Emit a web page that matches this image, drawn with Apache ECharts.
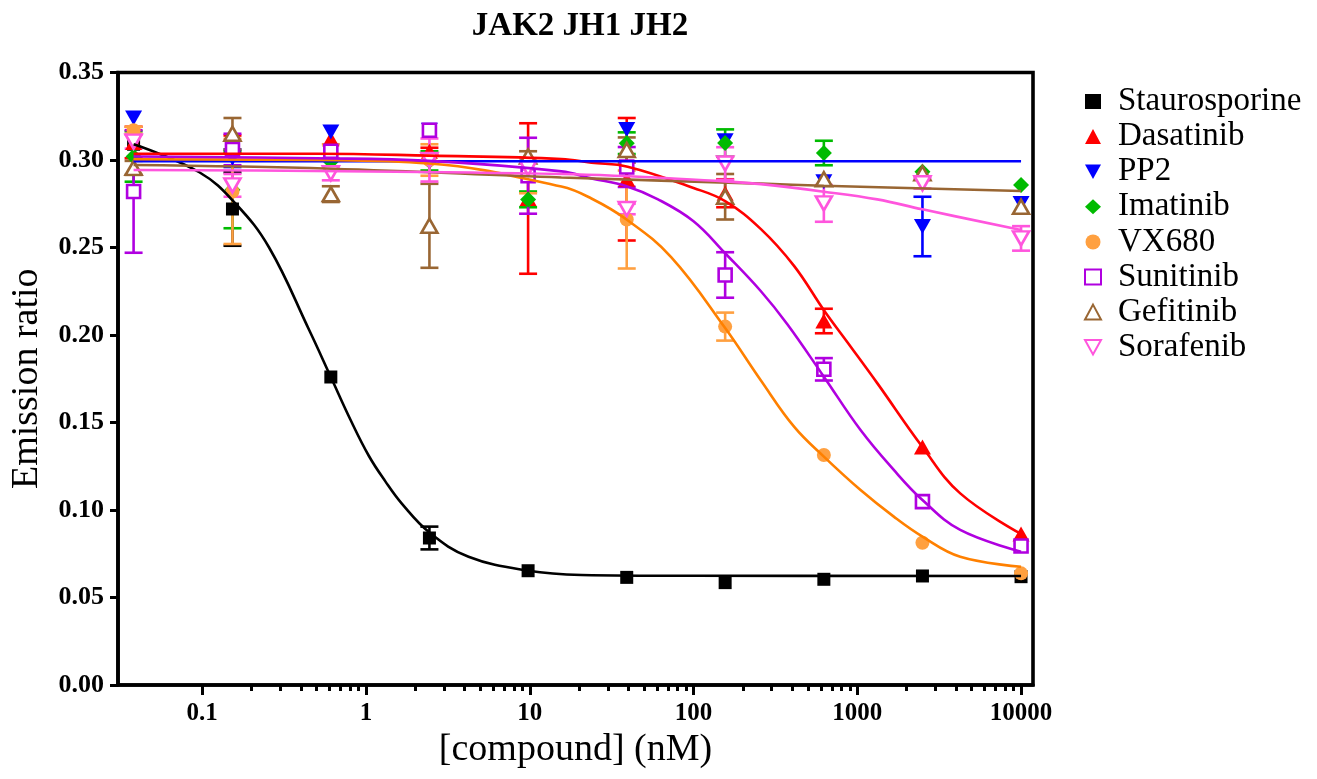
<!DOCTYPE html>
<html><head><meta charset="utf-8">
<script src="https://cdn.jsdelivr.net/npm/echarts@6/dist/echarts.min.js"></script>
<style>html,body{margin:0;padding:0;background:#fff}#c{width:1317px;height:779px}</style>
</head><body><div id="c"></div>
<script>
// ---- data ----
const conc = [0.0381, 0.153, 0.610, 2.44, 9.77, 39.1, 156, 625, 2500, 10000];
const xTickValues = [0.1, 1, 10, 100, 1000, 10000];
const xTickLabels = ['0.1', '1', '10', '100', '1000', '10000'];
const xMinorTicks = [0.2,0.3,0.4,0.5,0.6,0.7,0.8,0.9, 2,3,4,5,6,7,8,9, 20,30,40,50,60,70,80,90,
  200,300,400,500,600,700,800,900, 2000,3000,4000,5000,6000,7000,8000,9000];

const stauroMean = [0.309, 0.272, 0.176, 0.084, 0.0653, 0.0615, 0.0585, 0.0604, 0.0623, 0.0619];
const stauroErr  = [0, 0.021, 0, 0.0065, 0, 0, 0, 0, 0, 0];
const stauroFit  = [[0.0381,0.309],[0.096,0.293],[0.16,0.275],[0.256,0.250],[0.449,0.203],[0.61,0.176],
  [0.8,0.152],[1.04,0.131],[1.31,0.1165],[1.66,0.1035],[2.45,0.087],[4.23,0.0733],[9.8,0.0653],[20.7,0.0629],[100,0.0624],[10000,0.0623]];

const dasaMean = [0.310, 0.309, 0.312, 0.305, 0.278, 0.289, 0.281, 0.208, 0.136, 0.0863];
const dasaErr  = [0.009, 0.005, 0, 0.002, 0.043, 0.035, 0.008, 0.007, 0, 0];
const dasaFit  = [[0.0381,0.3035],[0.5,0.3036],[2.44,0.3025],[15.6,0.3006],[23.8,0.2985],[39.6,0.2962],
  [100,0.284],[156,0.2765],[258,0.2605],[411,0.2395],[627,0.214],[868,0.196],[1324,0.1725],[2500,0.136],
  [4253,0.1095],[10000,0.0863]];

const pp2Mean = [0.324, 0.301, 0.316, 0.317, 0.296, 0.3175, 0.311, 0.2876, 0.262, 0.2752];
const pp2Err  = [0, 0.005, 0, 0, 0, 0, 0, 0, 0.017, 0];
const pp2Fit  = [[0.0381,0.2993],[10000,0.2993]];

const imaMean = [0.302, 0.283, 0.299, 0.2995, 0.2775, 0.3096, 0.3097, 0.304, 0.2933, 0.2857];
const imaErr  = [0.0144, 0.022, 0, 0.0055, 0.0045, 0.0062, 0.0078, 0.007, 0, 0];

const vxMean = [0.317, 0.282, 0.305, 0.300, 0.291, 0.266, 0.2048, 0.1314, 0.0813, 0.0638];
const vxErr  = [0.002, 0.030, 0.004, 0.009, 0.010, 0.028, 0.008, 0, 0, 0];
const vxFit  = [[0.0381,0.3004],[0.5,0.300],[2.44,0.298],[15.6,0.2848],[23.8,0.278],[39,0.266],[73,0.2445],
  [156,0.204],[258,0.174],[411,0.1476],[625,0.1305],[1047,0.1114],[1671,0.0962],[2500,0.0848],
  [4253,0.0733],[10000,0.0676]];

const suniMean = [0.282, 0.306, 0.305, 0.317, 0.291, 0.296, 0.2343, 0.1804, 0.1048, 0.0794];
const suniErr  = [0.035, 0.009, 0, 0, 0.0217, 0.0114, 0.013, 0.0064, 0, 0];
const suniFit  = [[0.0381,0.302],[0.5,0.301],[2.44,0.2995],[15.6,0.2935],[23.8,0.2895],[39,0.285],[60.7,0.2775],
  [100,0.265],[156,0.2467],[258,0.225],[375,0.206],[625,0.1762],[1047,0.1457],[1671,0.1229],[2500,0.1057],
  [4253,0.0886],[10000,0.0762]];

const gefiMean = [0.2955, 0.315, 0.2805, 0.2624, 0.302, 0.3057, 0.279, 0.289, 0.2924, 0.2733];
const gefiErr  = [0.004, 0.009, 0.0045, 0.024, 0.003, 0.0072, 0.013, 0, 0, 0];
const gefiFit  = [[0.0381,0.2971],[0.61,0.2950],[15.6,0.2900],[258,0.2865],[625,0.2853],[10000,0.2823]];

const soraMean = [0.3105, 0.2855, 0.2924, 0.300, 0.2952, 0.2720, 0.298, 0.2752, 0.2867, 0.2552];
const soraErr  = [0.004, 0.0065, 0.004, 0.0123, 0, 0.003, 0.0093, 0.0105, 0.003, 0.007];
const soraFit  = [[0.0381,0.2943],[15.6,0.292],[156,0.2878],[258,0.2862],[625,0.2819],[1324,0.2775],
  [2500,0.2718],[10000,0.26]];

// ---- styles ----
const FONT = '"Liberation Serif", "Times New Roman", serif';
const DOWN_TRI = 'path://M0,0L20,0L10,18Z';
const compounds = [
  {name:'Staurosporine', mean:stauroMean, err:stauroErr, fit:stauroFit, symbol:'rect', size:13, color:'#000000', line:'#000000'},
  {name:'Dasatinib', mean:dasaMean, err:dasaErr, fit:dasaFit, symbol:'triangle', size:[17,15], color:'#ff0000', line:'#ff0000'},
  {name:'PP2', mean:pp2Mean, err:pp2Err, fit:pp2Fit, symbol:'triangle', rotate:180, size:[17,15], color:'#0000ff', line:'#0000ff', icon:DOWN_TRI},
  {name:'Imatinib', mean:imaMean, err:imaErr, fit:null, symbol:'diamond', size:[16,16], color:'#00bb00', line:'#00bb00'},
  {name:'VX680', mean:vxMean, err:vxErr, fit:vxFit, symbol:'circle', size:14, color:'#ffa040', line:'#ff8000'},
  {name:'Sunitinib', mean:suniMean, err:suniErr, fit:suniFit, symbol:'rect', size:13, open:true, color:'#b000e0', line:'#b000e0'},
  {name:'Gefitinib', mean:gefiMean, err:gefiErr, fit:gefiFit, symbol:'triangle', size:[16,14], open:true, color:'#996633', line:'#996633'},
  {name:'Sorafenib', mean:soraMean, err:soraErr, fit:soraFit, symbol:'triangle', rotate:180, size:[16,14], open:true, color:'#ff55dd', line:'#ff55dd', icon:DOWN_TRI}
];

const lx = v => Math.log10(v);
const X_MIN = lx(0.0306), X_MAX = lx(11830);

const series = [];
compounds.forEach(c => {
  const errData = [];
  c.mean.forEach((m, i) => { if (c.err[i] > 0) errData.push([lx(conc[i]), m - c.err[i], m + c.err[i]]); });
  series.push({
    name: c.name + ' SD', type: 'custom', xAxisIndex: 0, yAxisIndex: 0, silent: true,
    data: errData,
    renderItem: (params, api) => {
      const x = api.value(0), lo = api.value(1), hi = api.value(2);
      const p1 = api.coord([x, hi]), p2 = api.coord([x, lo]);
      const w = 9, st = {stroke: c.color, lineWidth: 2.6};
      return {type: 'group', children: [
        {type: 'line', shape: {x1: p1[0], y1: p1[1], x2: p2[0], y2: p2[1]}, style: st},
        {type: 'line', shape: {x1: p1[0]-w, y1: p1[1], x2: p1[0]+w, y2: p1[1]}, style: st},
        {type: 'line', shape: {x1: p2[0]-w, y1: p2[1], x2: p2[0]+w, y2: p2[1]}, style: st}
      ]};
    }
  });
  series.push({
    name: c.name, type: 'scatter', xAxisIndex: 0, yAxisIndex: 0,
    symbol: c.symbol, symbolSize: c.size, symbolRotate: c.rotate || 0,
    itemStyle: c.open ? {color: '#ffffff', borderColor: c.color, borderWidth: 2.6, opacity: 1}
                      : {color: c.color, borderWidth: 0, opacity: 1},
    data: c.mean.map((m, i) => [lx(conc[i]), m])
  });
  if (c.fit) {
    series.push({
      name: c.name + ' fit', type: 'line', xAxisIndex: 0, yAxisIndex: 0,
      showSymbol: false, symbol: 'none', smooth: 0.4,
      lineStyle: {color: c.line, width: 2.6},
      data: c.fit.map(p => [lx(p[0]), p[1]])
    });
  }
});

const chart = echarts.init(document.getElementById('c'), null, {renderer: 'canvas'});
chart.setOption({
  animation: false,
  backgroundColor: '#ffffff',
  title: {
    text: 'JAK2 JH1 JH2', left: 575, top: 5, textAlign: 'center',
    textStyle: {fontFamily: FONT, fontWeight: 'bold', fontSize: 33, color: '#000'}
  },
  legend: {
    orient: 'vertical', left: 1079, top: 80, itemWidth: 16, itemHeight: 15, itemGap: 2.1,
    data: compounds.map(c => c.icon ? {name: c.name, icon: c.icon} : {name: c.name}),
    textStyle: {fontFamily: FONT, fontSize: 33, color: '#000', padding: [0, 0, 0, 12]},
    selectedMode: false
  },
  grid: {left: 115, right: 284, top: 72.5, bottom: 94, show: true, borderColor: '#000', borderWidth: 3.6, backgroundColor: 'transparent'},
  xAxis: [{
    type: 'value', min: X_MIN, max: X_MAX, position: 'bottom',
    name: '[compound] (nM)', nameLocation: 'middle', nameGap: 46,
    nameTextStyle: {fontFamily: FONT, fontSize: 38, color: '#000'},
    axisLine: {show: true, onZero: false, lineStyle: {color: '#000', width: 3.6}},
    axisTick: {show: true, inside: false, length: 10, customValues: xTickValues.map(lx), lineStyle: {color: '#000', width: 3}},
    axisLabel: {show: true, margin: 16, customValues: xTickValues.map(lx),
      formatter: v => { const i = xTickValues.findIndex(t => Math.abs(lx(t) - v) < 1e-6); return i >= 0 ? xTickLabels[i] : ''; },
      fontFamily: FONT, fontWeight: 'bold', fontSize: 25, color: '#000'},
    splitLine: {show: false}
  }, {
    type: 'value', min: X_MIN, max: X_MAX, position: 'bottom',
    axisLine: {show: true, onZero: false, lineStyle: {color: '#000', width: 3.6, opacity: 0}},
    axisTick: {show: true, inside: false, length: 6, customValues: xMinorTicks.map(lx), lineStyle: {color: '#000', width: 3}},
    axisLabel: {show: false},
    splitLine: {show: false}
  }],
  yAxis: {
    type: 'value', min: 0, max: 0.35, interval: 0.05,
    name: 'Emission ratio', nameLocation: 'middle', nameGap: 72,
    nameTextStyle: {fontFamily: FONT, fontSize: 38, color: '#000'},
    axisLine: {show: true, onZero: false, lineStyle: {color: '#000', width: 3.6}},
    axisTick: {show: true, inside: false, length: 8, lineStyle: {color: '#000', width: 3}},
    axisLabel: {margin: 14, formatter: v => v.toFixed(2), fontFamily: FONT, fontWeight: 'bold', fontSize: 26, color: '#000'},
    splitLine: {show: false}
  },
  series: series
});
</script></body></html>
